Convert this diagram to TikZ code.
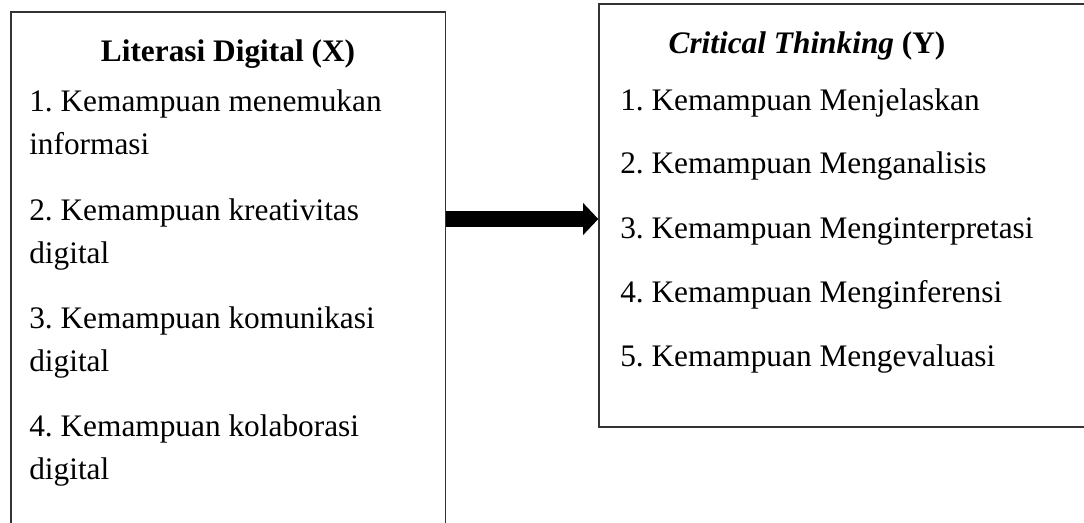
\documentclass[tikz,border=0pt]{standalone}
\usepackage{fontspec}
\setmainfont{Liberation Serif}
\usetikzlibrary{arrows.meta,fit}
\frenchspacing
\begin{document}
\begin{tikzpicture}[x=0.75pt,y=-0.75pt,
  boxline/.style={draw=black!80, line width=1pt, inner sep=0pt},
  item/.style={anchor=base west, inner sep=0pt, font=\fontsize{23.5}{28}\selectfont},
  ttl/.style={anchor=base, inner sep=0pt, font=\fontsize{23.5}{28}\selectfont\bfseries},
  bigarrow/.style={line width=12pt, -{Triangle[length=11.5pt,width=23.5pt]}}]
\useasboundingbox (0,0) rectangle (1084,522);
\clip (0,0) rectangle (1084,522);
% boxes
\coordinate (lb1) at (11,12);
\coordinate (lb2) at (445.7,560);
\node[boxline, fit=(lb1)(lb2)] (leftbox) {};
\coordinate (rb1) at (599,4);
\coordinate (rb2) at (1120,427);
\node[boxline, fit=(rb1)(rb2)] (rightbox) {};
% left texts
\node[ttl] (lt) at (228,61) {Literasi Digital (X)};
\node[item] (l1a) at (29,111) {1. Kemampuan menemukan};
\node[item] (l1b) at (29,154) {informasi};
\node[item] (l2a) at (29,220) {2. Kemampuan kreativitas};
\node[item] (l2b) at (29,263) {digital};
\node[item] (l3a) at (29,328) {3. Kemampuan komunikasi};
\node[item] (l3b) at (29,371) {digital};
\node[item] (l4a) at (29,436) {4. Kemampuan kolaborasi};
\node[item] (l4b) at (29,479) {digital};
% right texts
\node[ttl] (rt) at (807,53) {\textit{Critical Thinking} (Y)};
\node[item] (r1) at (620,110) {1. Kemampuan Menjelaskan};
\node[item] (r2) at (620,173) {2. Kemampuan Menganalisis};
\node[item] (r3) at (620,238) {3. Kemampuan Menginterpretasi};
\node[item] (r4) at (620,302) {4. Kemampuan Menginferensi};
\node[item] (r5) at (620,366) {5. Kemampuan Mengevaluasi};
% arrow
\coordinate (ay) at (0,219);
\draw[bigarrow] (leftbox.east |- ay) -- (rightbox.west |- ay);
\end{tikzpicture}
\end{document}
